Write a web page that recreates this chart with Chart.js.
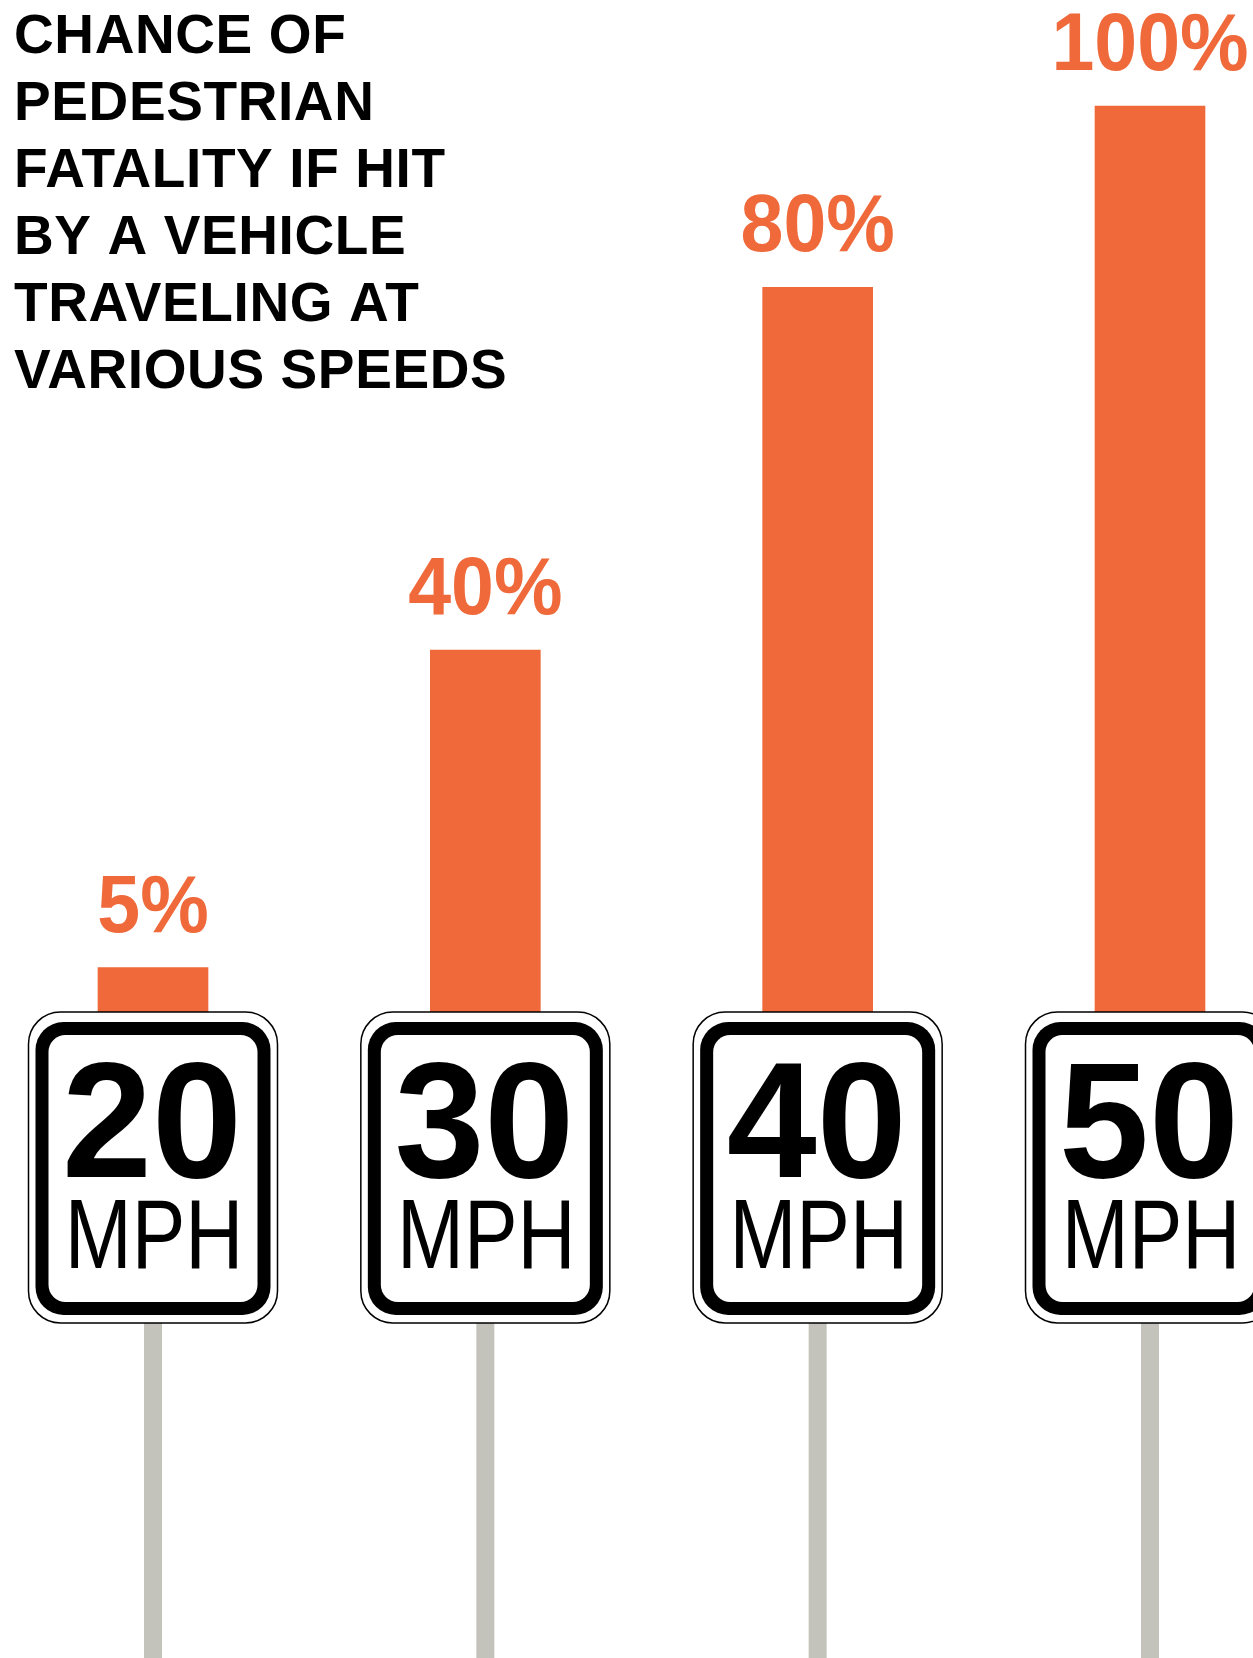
<!DOCTYPE html>
<html>
<head>
<meta charset="utf-8">
<script src="https://cdn.jsdelivr.net/npm/chart.js@4/dist/chart.umd.min.js"></script>
<style>
  html, body { margin: 0; padding: 0; background: #ffffff; }
  #wrap { width: 1253px; height: 1658px; position: relative; }
</style>
</head>
<body>
<div id="wrap"><canvas id="c" width="1253" height="1658"></canvas></div>
<script>
// ---- data ----
const speedLabels = ['20', '30', '40', '50'];
const fatalityPct = [5, 40, 80, 100];
const unitLabel = 'MPH';
const titleLines = ['CHANCE OF', 'PEDESTRIAN', 'FATALITY IF HIT', 'BY A VEHICLE', 'TRAVELING AT', 'VARIOUS SPEEDS'];

const ORANGE = '#EF693B';
const POLE = '#C3C3BB';
const FONT = "'Liberation Sans', Arial, Helvetica, sans-serif";

function rr(ctx, x, y, w, h, r) {
  ctx.beginPath();
  ctx.moveTo(x + r, y);
  ctx.lineTo(x + w - r, y);
  ctx.arcTo(x + w, y, x + w, y + r, r);
  ctx.lineTo(x + w, y + h - r);
  ctx.arcTo(x + w, y + h, x + w - r, y + h, r);
  ctx.lineTo(x + r, y + h);
  ctx.arcTo(x, y + h, x, y + h - r, r);
  ctx.lineTo(x, y + r);
  ctx.arcTo(x, y, x + r, y, r);
  ctx.closePath();
}

const decor = {
  id: 'decor',
  afterDatasetsDraw(chart) {
    const ctx = chart.ctx;
    const meta = chart.getDatasetMeta(0);
    ctx.save();
    // title
    ctx.fillStyle = '#000';
    ctx.textAlign = 'left';
    ctx.textBaseline = 'alphabetic';
    ctx.font = 'bold 55px ' + FONT;
    if ('letterSpacing' in ctx) ctx.letterSpacing = '0.6px';
    titleLines.forEach((t, i) => ctx.fillText(t, 14, 53 + i * 67));
    if ('letterSpacing' in ctx) ctx.letterSpacing = '0px';

    meta.data.forEach((bar, i) => {
      const cx = bar.x;
      // value label
      ctx.fillStyle = ORANGE;
      ctx.textAlign = 'center';
      ctx.font = 'bold 82px ' + FONT;
      ctx.save();
      ctx.translate(cx, bar.y - 36);
      ctx.scale(0.94, 1);
      ctx.fillText(fatalityPct[i] + '%', 0, 0);
      ctx.restore();

      // pole
      ctx.fillStyle = POLE;
      ctx.fillRect(cx - 9, 1300, 18, 400);

      // sign
      rr(ctx, cx - 124.5, 1012, 249, 311, 32);
      ctx.fillStyle = '#fff';
      ctx.fill();
      ctx.lineWidth = 1.5;
      ctx.strokeStyle = '#000';
      ctx.stroke();
      rr(ctx, cx - 117.5, 1022, 235, 293, 28);
      ctx.fillStyle = '#000';
      ctx.fill();
      rr(ctx, cx - 104.5, 1035, 209, 267, 17);
      ctx.fillStyle = '#fff';
      ctx.fill();

      // sign text
      ctx.fillStyle = '#000';
      ctx.font = 'bold 165px ' + FONT;
      ctx.save();
      ctx.translate(cx - 1, 1177);
      ctx.scale(0.98, 1);
      ctx.fillText(speedLabels[i], 0, 0);
      ctx.restore();
      ctx.font = '98px ' + FONT;
      ctx.save();
      ctx.translate(cx + 1, 1268);
      ctx.scale(0.82, 1);
      ctx.fillText(unitLabel, 0, 0);
      ctx.restore();
    });
    ctx.restore();
  }
};

new Chart(document.getElementById('c'), {
  type: 'bar',
  data: {
    labels: speedLabels,
    datasets: [{
      data: fatalityPct,
      backgroundColor: ORANGE,
      borderWidth: 0,
      barThickness: 110,
      clip: false
    }]
  },
  options: {
    responsive: false,
    animation: false,
    layout: { padding: { left: 153, right: 103, top: 106, bottom: 645 } },
    scales: {
      x: { display: false, offset: false, grid: { display: false } },
      y: { display: false, min: 0, max: 100, grid: { display: false } }
    },
    plugins: {
      legend: { display: false },
      tooltip: { enabled: false },
      title: { display: false }
    }
  },
  plugins: [decor]
});
</script>
</body>
</html>
